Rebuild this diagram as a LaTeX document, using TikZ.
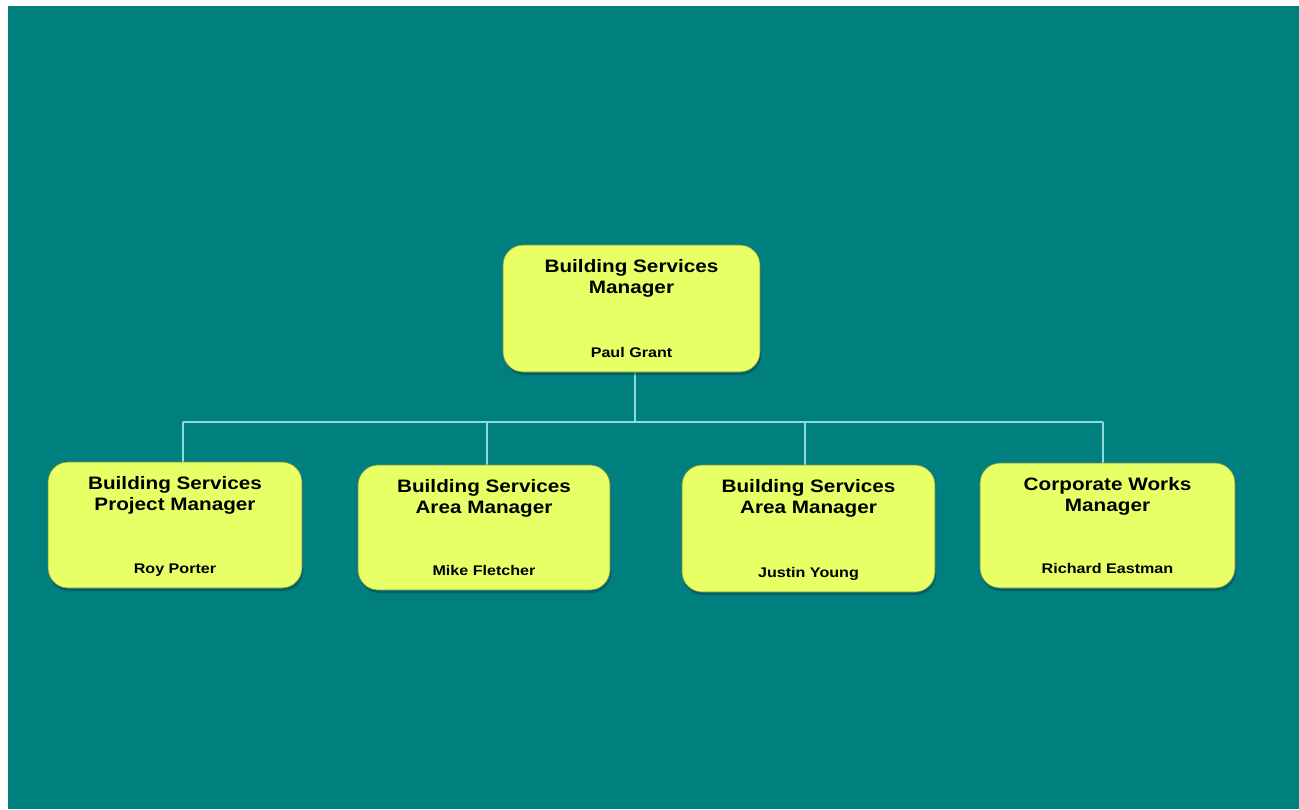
\documentclass[tikz,border=0pt]{standalone}
\usepackage{fontspec}
\setmainfont{Liberation Sans}[FakeStretch=1.15]
\usetikzlibrary{positioning}
\definecolor{bgteal}{RGB}{0,127,127}
\definecolor{boxfill}{RGB}{232,255,102}
\definecolor{boxedge}{RGB}{120,140,70}
\definecolor{shade}{RGB}{0,80,85}
\definecolor{linkc}{RGB}{140,220,220}
\tikzset{
  x=1pt, y=-1pt,
  rolebox/.style={rounded corners=20pt, fill=boxfill, draw=boxedge, line width=0.6pt,
    inner sep=0pt, outer sep=0pt},
  roleshadow/.style={rounded corners=20pt, fill=shade, opacity=0.6},
  titletext/.style={font=\fontsize{18}{21}\selectfont\bfseries, align=center,
    anchor=base, inner sep=0pt},
  nametext/.style={font=\fontsize{14}{16}\selectfont\bfseries, anchor=base, inner sep=0pt},
  link/.style={draw=linkc, line width=1.8pt}
}
% one role box: #1 name, #2 left, #3 top, #4 right, #5 bottom, #6 title, #7 person
% (the base anchor of a two-line title is the baseline of its second line)
\newcommand{\rolecard}[7]{%
  \fill[roleshadow] (#2+1,#3+3) rectangle (#4+1,#5+3);
  \node[rolebox, minimum width=#4-#2, minimum height=#5-#3] (#1) at ({(#2+#4)/2},{(#3+#5)/2}) {};
  \node[titletext] (#1-title) at ({(#2+#4)/2},#3+48) {#6};
  \node[nametext] (#1-name) at ({(#2+#4)/2},#5-15) {#7};
}
\begin{document}
\begin{tikzpicture}
\useasboundingbox (0,0) rectangle (1299,809);
\fill[white] (0,0) rectangle (1299,809);
\fill[bgteal] (8,6) rectangle (1299,809);

% connectors sit behind the boxes
\coordinate (hub) at (635,422);
\coordinate (barL) at (183,422);
\coordinate (barR) at (1103,422);
\draw[link] (635,372) -- (hub);
\draw[link] (barL) -- (barR);
\draw[link] (barL) -- (183,462);
\draw[link] (487,422) -- (487,465);
\draw[link] (805,422) -- (805,465);
\draw[link] (barR) -- (1103,463);

\rolecard{top}{503}{245}{760}{372}{Building Services\\Manager}{Paul Grant}
\rolecard{pm}{48}{462}{302}{588}{Building Services\\Project Manager}{Roy Porter}
\rolecard{amA}{358}{465}{610}{590}{Building Services\\Area Manager}{Mike Fletcher}
\rolecard{amB}{682}{465}{935}{592}{Building Services\\Area Manager}{Justin Young}
\rolecard{cw}{980}{463}{1235}{588}{Corporate Works\\Manager}{Richard Eastman}
\end{tikzpicture}
\end{document}
